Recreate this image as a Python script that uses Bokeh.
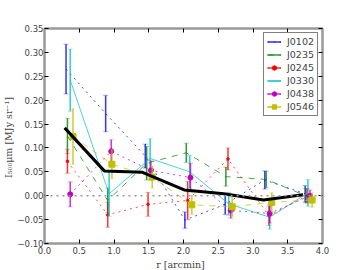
from bokeh.plotting import figure
from bokeh.models import (ColumnDataSource, FixedTicker, LinearAxis, Legend, LegendItem, Span)
from bokeh.embed import file_html
from bokeh.resources import INLINE

names = ["J0102", "J0235", "J0245", "J0330", "J0438", "J0546"]
r_J0102 = [0.31, 0.88, 1.45, 2.02, 2.60, 3.17, 3.75]
v_J0102 = [0.265, 0.172, 0.083, -0.051, -0.018, 0.033, 0.004]
e_J0102 = [0.052, 0.038, 0.025, 0.017, 0.021, 0.019, 0.017]
r_J0235 = [0.33, 0.91, 1.47, 2.04, 2.61, 3.19, 3.76]
v_J0235 = [0.125, -0.010, 0.068, 0.090, 0.040, 0.034, 0.000]
e_J0235 = [0.037, 0.026, 0.035, 0.020, 0.020, 0.017, 0.015]
r_J0245 = [0.33, 0.91, 1.49, 2.06, 2.64, 3.23, 3.78]
v_J0245 = [0.072, -0.040, -0.018, -0.010, 0.077, -0.042, 0.000]
e_J0245 = [0.025, 0.026, 0.025, 0.040, 0.023, 0.020, 0.015]
r_J0330 = [0.37, 0.93, 1.52, 2.09, 2.65, 3.24, 3.79]
v_J0330 = [0.242, 0.004, 0.078, 0.050, -0.017, -0.045, 0.006]
e_J0330 = [0.065, 0.047, 0.041, 0.034, 0.024, 0.025, 0.028]
r_J0438 = [0.37, 0.96, 1.53, 2.10, 2.68, 3.24, 3.82]
v_J0438 = [0.003, 0.093, 0.053, 0.038, -0.031, -0.037, 0.000]
e_J0438 = [0.026, 0.024, 0.020, 0.030, 0.016, 0.020, 0.012]
r_J0546 = [0.41, 0.97, 1.55, 2.12, 2.70, 3.27, 3.85]
v_J0546 = [0.124, 0.066, 0.039, -0.019, -0.023, -0.014, -0.009]
e_J0546 = [0.058, 0.030, 0.023, 0.020, 0.020, 0.020, 0.015]
r_mean = [0.29, 0.86, 1.41, 2.01, 2.58, 3.15, 3.72]
v_mean = [0.142, 0.052, 0.049, 0.012, 0.004, -0.009, 0.002]

x_ticks = [0.0, 0.5, 1.0, 1.5, 2.0, 2.5, 3.0, 3.5, 4.0]
y_ticks = [-0.10, -0.05, 0.0, 0.05, 0.10, 0.15, 0.20, 0.25, 0.30, 0.35]

series = [
    (names[0], r_J0102, v_J0102, e_J0102, "#0000ff", "dotted", None),
    (names[1], r_J0235, v_J0235, e_J0235, "#008000", "dashed", None),
    (names[2], r_J0245, v_J0245, e_J0245, "#ff0000", "dotted", "dot"),
    (names[3], r_J0330, v_J0330, e_J0330, "#00bfbf", "solid", None),
    (names[4], r_J0438, v_J0438, e_J0438, "#bf00bf", "dotted", "circle"),
    (names[5], r_J0546, v_J0546, e_J0546, "#bfbf00", "dashed", "square"),
]

p = figure(frame_width=278, frame_height=215, x_range=(0, 4), y_range=(-0.10, 0.35),
           output_backend="svg", toolbar_location=None,
           min_border_left=30, min_border_top=28, min_border_right=20, min_border_bottom=10)
p.grid.visible = False
p.outline_line_color = "#999999"
p.outline_line_width = 2
p.background_fill_color = "white"

serif = "DejaVu Serif"
for ax in (p.xaxis[0], p.yaxis[0]):
    ax.major_tick_in = 4
    ax.major_tick_out = 0
    ax.minor_tick_line_color = None
    ax.axis_line_color = "#999999"
    ax.axis_line_width = 2
    ax.major_label_text_font = "DejaVu Sans"
    ax.major_label_text_font_size = "8.5px"
    ax.major_label_standoff = 3
    ax.axis_label_text_font = serif
    ax.axis_label_text_font_style = "normal"
    ax.axis_label_text_font_size = "9.5px"
    ax.axis_label_standoff = 2
p.yaxis.major_label_standoff = 1
p.yaxis.axis_label_standoff = 0

p.xaxis.ticker = FixedTicker(ticks=x_ticks)
p.yaxis.ticker = FixedTicker(ticks=y_ticks)
p.xaxis.major_label_overrides = {t: f"{t:.1f}" for t in x_ticks}
p.yaxis.major_label_overrides = {t: f"{t:.2f}".replace("-", "\u2212") for t in y_ticks}
p.xaxis.axis_label = "r   [arcmin]"
p.yaxis.axis_label = "I\u2085\u2080\u2080\u03bcm  [MJy sr\u207b\u00b9]"

for loc in ("above", "right"):
    ax = LinearAxis(major_label_text_font_size="0px", major_tick_in=4, major_tick_out=0,
                    minor_tick_line_color=None, axis_line_color="#999999", axis_line_width=2,
                    major_label_standoff=0)
    ax.ticker = FixedTicker(ticks=x_ticks if loc == "above" else y_ticks)
    ax.major_label_text_color = None
    p.add_layout(ax, loc)

p.add_layout(Span(location=0, dimension="width", line_color="#999999",
                  line_dash="dotted", line_width=1.5))

items = []
for name, r, v, e, col, dash, mk in series:
    src = ColumnDataSource(dict(x=r, y=v, lo=[a - b for a, b in zip(v, e)],
                                hi=[a + b for a, b in zip(v, e)]))
    ln = p.line("x", "y", source=src, line_color=col, line_dash=dash, line_width=1,
                line_alpha=0.7)
    seg = p.segment("x", "lo", "x", "hi", source=src, line_color=col, line_width=1.5,
                    line_alpha=0.8)
    p.scatter("x", "lo", source=src, marker="dash", size=5, line_color=col,
              line_alpha=0.35, line_width=1)
    p.scatter("x", "hi", source=src, marker="dash", size=5, line_color=col,
              line_alpha=0.35, line_width=1)
    rends = [ln, seg]
    if mk == "dot":
        rends.append(p.scatter("x", "y", source=src, marker="circle", size=2.5,
                               fill_color=col, line_color=col))
    elif mk == "circle":
        rends.append(p.scatter("x", "y", source=src, marker="circle", size=5,
                               fill_color=col, line_color=col))
    elif mk == "square":
        rends.append(p.scatter("x", "y", source=src, marker="square", size=6,
                               fill_color=col, line_color=col))
    items.append(LegendItem(label=name, renderers=rends))

p.line(r_mean, v_mean, line_color="black", line_width=3)

legend = Legend(items=items, location="top_right", border_line_color="black",
                border_line_width=1, background_fill_color="white",
                label_text_font="DejaVu Sans", label_text_font_size="9.5px",
                glyph_width=14, glyph_height=11, label_height=11, spacing=2,
                padding=3, margin=4, label_standoff=6)
p.add_layout(legend)

open("out.html", "w").write(file_html(p, INLINE))
